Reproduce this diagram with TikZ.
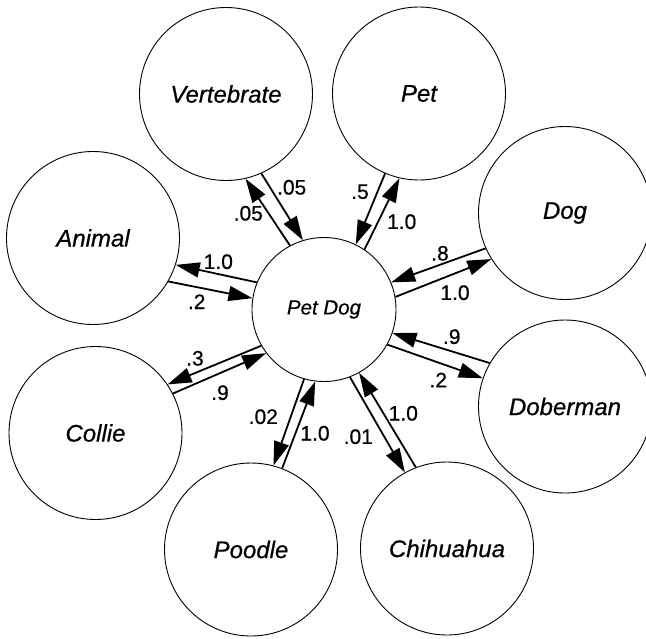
\documentclass[tikz,border=0pt]{standalone}
\usepackage{fontspec}
\setmainfont{Liberation Sans}[FakeBold=0.6]
\usetikzlibrary{arrows.meta}

\begin{document}
\begin{tikzpicture}[x=1pt,y=-1pt,
  concept/.style={circle,draw,line width=0.9pt,minimum size=173pt,inner sep=0pt,
    font=\fontsize{24}{28}\selectfont\itshape},
  hub/.style={circle,draw,line width=0.9pt,minimum size=144pt,inner sep=0pt,
    font=\fontsize{20.5}{24}\selectfont\itshape},
  wt/.style={inner sep=0pt,font=\fontsize{21}{25}\selectfont},
  link/.style={line width=1.8pt,-{Triangle[length=24pt,width=15pt]}}]
  \useasboundingbox (0,0) rectangle (646,638);

  \node[hub] (petdog) at (324,309.5) {Pet Dog};
  \node[concept] (vert) at (226,94) {Vertebrate};
  \node[concept] (pet) at (419,93.5) {Pet};
  \node[concept] (dog) at (565,213) {Dog};
  \node[concept] (animal) at (93,238) {Animal};
  \node[concept] (collie) at (95.5,433) {Collie};
  \node[concept] (dober) at (565,406.5) {Doberman};
  \node[concept] (poodle) at (251,549.5) {Poodle};
  \node[concept] (chihua) at (447,548.5) {Chihuahua};

  % each pair: one link out of Pet Dog, one link into it
  \draw[link] (petdog.118) -- (vert.-77);
  \draw[link] (vert.-66) -- (petdog.107);
  \node[wt] (vert-a) at (248.3,213.3) {.05};
  \node[wt] (vert-b) at (291.7,187.3) {.05};

  \draw[link] (pet.247) -- (petdog.64);
  \draw[link] (petdog.56) -- (pet.257);
  \node[wt] (pet-a) at (360,191.7) {.5};
  \node[wt] (pet-b) at (401.7,221.7) {1.0};

  \draw[link] (dog.204) -- (petdog.22);
  \draw[link] (petdog.10) -- (dog.212);
  \node[wt] (dog-a) at (440,253.3) {.8};
  \node[wt] (dog-b) at (455,292.7) {1.0};

  \draw[link] (dober.150) -- (petdog.-19);
  \draw[link] (petdog.-29) -- (dober.161);
  \node[wt] (dober-a) at (451.7,336.7) {.9};
  \node[wt] (dober-b) at (438.3,380) {.2};

  \draw[link] (chihua.111) -- (petdog.-61);
  \draw[link] (petdog.-69) -- (chihua.119);
  \node[wt] (chihua-a) at (403.3,413.3) {1.0};
  \node[wt] (chihua-b) at (358.3,436.7) {.01};

  \draw[link] (poodle.69) -- (petdog.-97);
  \draw[link] (petdog.-106) -- (poodle.75);
  \node[wt] (poodle-a) at (315,433.3) {1.0};
  \node[wt] (poodle-b) at (263.3,416.7) {.02};

  \draw[link] (collie.27) -- (petdog.217);
  \draw[link] (petdog.210) -- (collie.34);
  \node[wt] (collie-a) at (220,392.7) {.9};
  \node[wt] (collie-b) at (195,358.3) {.3};

  \draw[link] (animal.-30) -- (petdog.171);
  \draw[link] (petdog.158) -- (animal.-18);
  \node[wt] (animal-a) at (196.7,301.7) {.2};
  \node[wt] (animal-b) at (218.3,261.7) {1.0};
\end{tikzpicture}
\end{document}
